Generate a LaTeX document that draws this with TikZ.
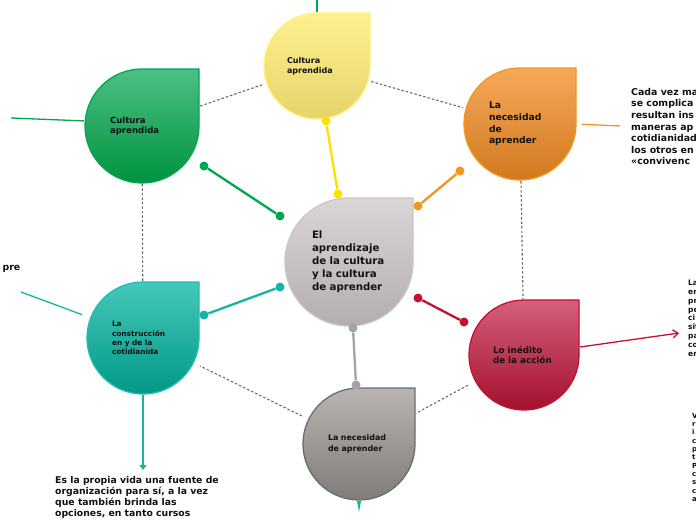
\documentclass[tikz,border=0pt]{standalone}
\usepackage{fontspec}
\setmainfont{DejaVu Sans}
\usepackage{xcolor}
\usepackage{tikz}
\usetikzlibrary{arrows.meta,backgrounds}
\definecolor{cgreen}{HTML}{00A651}
\definecolor{cyellow}{HTML}{FFE100}
\definecolor{corange}{HTML}{F7941D}
\definecolor{cteal}{HTML}{13B5A7}
\definecolor{cred}{HTML}{C8102E}
\definecolor{cgray}{HTML}{A5A3A3}
\definecolor{ctext}{HTML}{111111}
\definecolor{cguide}{HTML}{6A6A6A}
% degradados de las gotas
\definecolor{ctrtop}{HTML}{DAD6D5}\definecolor{ctrbot}{HTML}{B3AEAD}\definecolor{ctrline}{HTML}{CBC5C5}
\definecolor{yeltop}{HTML}{FDF08F}\definecolor{yelbot}{HTML}{E6D46A}\definecolor{yelline}{HTML}{FFF27E}
\definecolor{gretop}{HTML}{4CC085}\definecolor{grebot}{HTML}{00923F}
\definecolor{oratop}{HTML}{F6A95B}\definecolor{orabot}{HTML}{D0781D}
\definecolor{teatop}{HTML}{45C8B9}\definecolor{teabot}{HTML}{009887}\definecolor{tealine}{HTML}{1CBFAE}
\definecolor{redtop}{HTML}{D5607A}\definecolor{redbot}{HTML}{A3102F}
\definecolor{grytop}{HTML}{B8B5B3}\definecolor{grybot}{HTML}{7E7B79}\definecolor{gryline}{HTML}{6F6D6C}
\tikzset{
  mdrop/.style n args={4}{rectangle, minimum size=2*#1pt+2pt, inner sep=0pt,
    align=left, text=ctext,
    path picture={\shade[top color=#2, bottom color=#3, draw=#4, line width=1.3pt]
      ([yshift=#1pt]path picture bounding box.center) -- ++(#1pt,0pt) -- ++(0pt,-#1pt)
      arc[start angle=0, end angle=-270, radius=#1pt] -- cycle;}},
  mfont/.style 2 args={font=\bfseries\fontsize{#1}{#2}\selectfont},
  mdot/.style={circle, fill=#1, inner sep=0pt, minimum size=9pt},
  mlink/.style={#1, line width=2.3pt},
  mguide/.style={cguide, dash pattern=on 2.5pt off 2pt, line width=1.1pt},
  mside/.style={anchor=north west, inner sep=0pt, align=left, text=ctext},
  mthin/.style={#1, line width=1.3pt},
}

\begin{document}
\begin{tikzpicture}[x=1pt,y=-1pt]
  \path[use as bounding box, clip] (0,0) rectangle (696,520);

  % gotas
  \node[mdrop={64}{ctrtop}{ctrbot}{ctrline}, mfont={10.2}{13}, text width=74pt]
    (ctr) at (349,262) {El\\aprendizaje\\de la cultura\\y la cultura\\de aprender};
  \node[mdrop={53}{yeltop}{yelbot}{yelline}, mfont={8}{10.3}, text width=60pt]
    (ycult) at (317,66) {Cultura\\aprendida};
  \node[mdrop={57}{gretop}{grebot}{cgreen}, mfont={8.6}{10.7}, text width=64pt]
    (gcult) at (142,126) {Cultura\\aprendida};
  \node[mdrop={56}{oratop}{orabot}{corange}, mfont={9.2}{11.7}, text width=62pt]
    (onec) at (520,124) {La\\necesidad\\de\\aprender};
  \node[mdrop={56}{teatop}{teabot}{tealine}, mfont={7.4}{9.2}, text width=62pt]
    (tcon) at (143,338) {La\\construcción\\en y de la\\cotidianida};
  \node[mdrop={55}{redtop}{redbot}{cred}, mfont={8.8}{10.7}, text width=62pt]
    (rinc) at (524,355) {Lo inédito\\de la acción};
  \node[mdrop={56}{grytop}{grybot}{gryline}, mfont={7.9}{10.7}, text width=62pt]
    (knec) at (359,444) {La necesidad\\de aprender};

  \begin{scope}[on background layer]
    \draw[mguide] (gcult) -- (ycult);
    \draw[mguide] (ycult) -- (onec);
    \draw[mguide] (onec) -- (rinc);
    \draw[mguide] (rinc) -- (knec);
    \draw[mguide] (knec) -- (tcon);
    \draw[mguide] (tcon) -- (gcult);
  \end{scope}

  % enlaces con puntos
  \node[mdot=cyellow] (y1) at (338,194) {};
  \node[mdot=cyellow] (y2) at (326,121) {};
  \node[mdot=cgreen]  (g1) at (280,216) {};
  \node[mdot=cgreen]  (g2) at (204,166) {};
  \node[mdot=corange] (o1) at (418,206) {};
  \node[mdot=corange] (o2) at (460,171) {};
  \node[mdot=cteal]   (t1) at (280,287) {};
  \node[mdot=cteal]   (t2) at (204,315) {};
  \node[mdot=cred]    (r1) at (418,298) {};
  \node[mdot=cred]    (r2) at (464,322) {};
  \node[mdot=cgray]   (k1) at (353,328) {};
  \node[mdot=cgray]   (k2) at (356,385) {};
  \draw[mlink=cyellow] (y1) -- (y2);
  \draw[mlink=cgreen]  (g1) -- (g2);
  \draw[mlink=corange] (o1) -- (o2);
  \draw[mlink=cteal]   (t1) -- (t2);
  \draw[mlink=cred]    (r1) -- (r2);
  \draw[mlink=cgray]   (k1) -- (k2);

  % ramas laterales
  \coordinate (yl) at (317,-2);
  \coordinate (gl) at (11,118);
  \coordinate (ol) at (620,126);
  \coordinate (tl) at (21,292);
  \coordinate (ra) at (679,333);
  \coordinate (ta) at (143,470);
  \coordinate (kw) at (359,512);
  \draw[cgreen, line width=2.8pt] (ycult.north) -- (yl);
  \draw[mthin=cgreen] (gcult.175) -- (gl);
  \draw[mthin=corange, shorten <=5pt] (onec.east) -- (ol);
  \draw[mthin=cteal, shorten <=4pt] (tcon.159) -- (tl);
  \draw[mthin=cred, -{Straight Barb[length=5pt,width=8pt]}] ([yshift=8pt]rinc.east) -- (ra);
  \draw[mthin=cteal, -{Triangle[length=5pt,width=7pt]}] (tcon.south) -- (ta);
  \fill[cteal] ([xshift=-2pt]knec.south) -- ([xshift=2pt]knec.south) -- (kw) -- cycle;

  \node[mside, mfont={9.4}{11.6}] (ocada) at (631,88)
    {Cada vez ma\\se complica\\resultan ins\\maneras ap\\cotidianidad\\los otros en\\«convivenc};
  \node[mside, mfont={9.3}{11}] (tvida) at (55,476)
    {Es la propia vida una fuente de\\organización para sí, a la vez\\que también brinda las\\opciones, en tanto cursos};
  \node[mside, mfont={7.5}{8.8}] (rla) at (688,280) {La\\en\\pr\\pe\\ci\\sit\\pa\\co\\en};
  \node[mside, mfont={7}{8.3}] (kv) at (692,413) {V\\r\\i\\c\\p\\t\\P\\c\\s\\c\\a};
  \node[anchor=base east, inner sep=0pt, text=ctext, mfont={9.4}{11}] (tpre) at (20.5,270) {pre};

\end{tikzpicture}
\end{document}
